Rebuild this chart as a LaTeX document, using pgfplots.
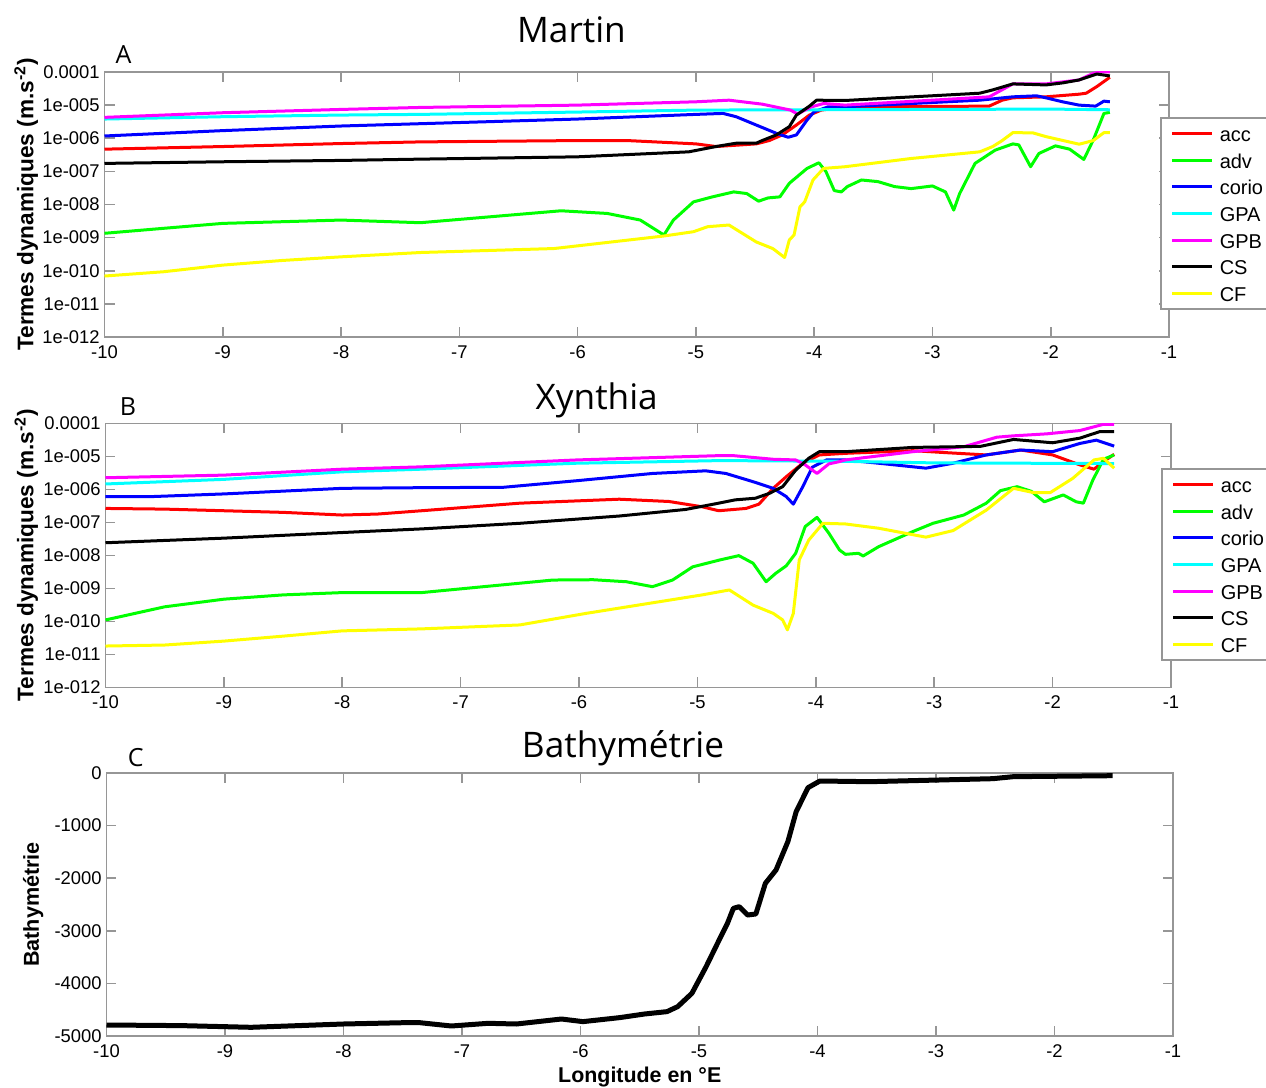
\documentclass[border=0pt]{standalone}
\usepackage{pgfplots}
\pgfplotsset{compat=1.18}
\usepackage{fontspec}
\setmainfont{Liberation Sans}
\newfontfamily\titlefont{Open Sans}
\definecolor{axisgray}{RGB}{150,150,150}
\definecolor{mred}{RGB}{255,0,0}
\definecolor{mgreen}{RGB}{0,255,0}
\definecolor{mblue}{RGB}{0,0,255}
\definecolor{mcyan}{RGB}{0,255,255}
\definecolor{mmagenta}{RGB}{255,0,255}
\definecolor{myellow}{RGB}{255,255,0}
\definecolor{mblack}{RGB}{0,0,0}

\pgfplotsset{
  panel/.style={
    scale only axis,
    xmin=-10, xmax=-1,
    xtick={-10,-9,-8,-7,-6,-5,-4,-3,-2,-1},
    xticklabels={-10,-9,-8,-7,-6,-5,-4,-3,-2,-1},
    axis line style={axisgray, line width=0.8pt},
    every tick/.style={axisgray, line width=0.8pt},
    major tick length=5pt,
    minor tick length=0pt,
    tick align=inside,
    tick label style={font=\fontsize{9.2}{10}\selectfont, text=black},
    xticklabel style={inner sep=0pt, anchor=north, yshift=-4pt},
    yticklabel style={inner sep=0pt, anchor=east, xshift=-2.25pt},
    every axis y label/.style={rotate=90, anchor=base, font=\bfseries\fontsize{10.8}{12}\selectfont},
    every axis x label/.style={anchor=base, font=\bfseries\fontsize{10.7}{12}\selectfont},
    legend cell align=left,
    legend image code/.code={\draw[##1] (0pt,0pt) -- (20pt,0pt);},
    every axis plot/.append style={line width=1.5pt, line join=round},
  },
}

\begin{document}
\begin{tikzpicture}
\path[use as bounding box] (0,0) rectangle (633pt,544pt);

% ---------------- Panel A : Martin ----------------
\begin{axis}[panel, at={(52.25pt,375.5pt)}, anchor=south west,
  width=532.25pt, height=132.5pt,
  ymode=log, ymin=1e-12, ymax=1e-4,
  ytick={1e-12,1e-11,1e-10,1e-9,1e-8,1e-7,1e-6,1e-5,1e-4},
  yticklabels={1e-012,1e-011,1e-010,1e-009,1e-008,1e-007,1e-006,1e-005,0.0001},
  ylabel={Termes dynamiques (m.s\textsuperscript{-2})},
  ylabel style={at={(axis description cs:-0.0669,0.5)}, font=\bfseries\fontsize{11.3}{12}\selectfont},
  legend style={at={(0.9915,0.8302)}, anchor=north west, draw=axisgray, line width=0.8pt, fill=white,
      font=\fontsize{10}{12}\selectfont, inner xsep=5pt, inner ysep=1.2pt, row sep=0pt,
      nodes={inner sep=0pt, text height=10.6pt, text depth=2.73pt},
      /tikz/every odd column/.append style={column sep=3pt}}]
\addplot[mred] coordinates {(-10,4.68e-7) (-9,5.62e-7) (-8,6.92e-7) (-7.33,7.76e-7) (-6,8.51e-7) (-5.58,8.51e-7) (-5.0,6.76e-7) (-4.83,5.62e-7) (-4.49,6.76e-7) (-4.38,8.51e-7) (-4.27,1.26e-6) (-4.15,2.51e-6) (-4.04,5.01e-6) (-3.94,7.08e-6) (-3.77,8.51e-6) (-3.74,8.91e-6) (-3.0,9.1e-6) (-2.52,9.33e-6) (-2.41,1.41e-5) (-2.32,1.66e-5) (-2.04,1.78e-5) (-1.76,2.14e-5) (-1.70,2.29e-5) (-1.61,3.63e-5) (-1.50,6.92e-5)};
\addlegendentry{acc}
\addplot[mgreen] coordinates {(-10,1.35e-9) (-9.5,1.91e-9) (-9,2.69e-9) (-8,3.39e-9) (-7.33,2.82e-9) (-6.14,6.46e-9) (-5.75,5.37e-9) (-5.47,3.39e-9) (-5.27,1.20e-9) (-5.19,3.39e-9) (-5.02,1.20e-8) (-4.86,1.70e-8) (-4.68,2.40e-8) (-4.57,2.14e-8) (-4.47,1.26e-8) (-4.39,1.58e-8) (-4.29,1.70e-8) (-4.21,4.37e-8) (-4.06,1.23e-7) (-3.96,1.82e-7) (-3.90,9.77e-8) (-3.83,2.63e-8) (-3.77,2.40e-8) (-3.72,3.47e-8) (-3.60,5.50e-8) (-3.46,4.90e-8) (-3.32,3.47e-8) (-3.18,3.02e-8) (-3.0,3.63e-8) (-2.89,2.40e-8) (-2.82,6.76e-9) (-2.77,2.14e-8) (-2.64,1.74e-7) (-2.47,4.37e-7) (-2.32,6.76e-7) (-2.27,6.31e-7) (-2.17,1.38e-7) (-2.10,3.47e-7) (-1.96,5.89e-7) (-1.84,4.68e-7) (-1.72,2.29e-7) (-1.64,8.91e-7) (-1.55,5.62e-6) (-1.50,6.03e-6)};
\addlegendentry{adv}
\addplot[mblue] coordinates {(-10,1.17e-6) (-9,1.70e-6) (-8,2.34e-6) (-7.33,2.75e-6) (-6,3.80e-6) (-5,5.25e-6) (-4.77,5.62e-6) (-4.66,4.47e-6) (-4.49,2.51e-6) (-4.32,1.41e-6) (-4.22,1.07e-6) (-4.15,1.26e-6) (-4.06,3.55e-6) (-4.0,6.31e-6) (-3.88,8.91e-6) (-3.74,8.91e-6) (-2.60,1.41e-5) (-2.32,1.78e-5) (-2.12,1.91e-5) (-2.04,1.66e-5) (-1.90,1.26e-5) (-1.76,1.00e-5) (-1.62,9.33e-6) (-1.55,1.32e-5) (-1.50,1.26e-5)};
\addlegendentry{corio}
\addplot[mcyan] coordinates {(-10,3.80e-6) (-9,4.47e-6) (-8,5.01e-6) (-7.33,5.25e-6) (-6,6.17e-6) (-5,7.08e-6) (-4,7.24e-6) (-3,7.41e-6) (-2,7.59e-6) (-1.5,7.24e-6)};
\addlegendentry{GPA}
\addplot[mmagenta] coordinates {(-10,4.27e-6) (-9,5.89e-6) (-8,7.41e-6) (-7.33,8.51e-6) (-6,1.00e-5) (-5,1.26e-5) (-4.72,1.41e-5) (-4.44,1.07e-5) (-4.2,7.08e-6) (-4.14,5.37e-6) (-4.03,8.71e-6) (-3.92,1.12e-5) (-3.74,1.00e-5) (-3.0,1.41e-5) (-2.52,1.78e-5) (-2.32,4.37e-5) (-2.04,4.37e-5) (-1.76,5.75e-5) (-1.64,9.12e-5) (-1.58,1.0e-4) (-1.5,1.0e-4)};
\addlegendentry{GPB}
\addplot[mblack] coordinates {(-10,1.74e-7) (-9,1.95e-7) (-8,2.14e-7) (-7.33,2.34e-7) (-6,2.75e-7) (-5.06,3.89e-7) (-4.83,5.62e-7) (-4.66,7.08e-7) (-4.49,7.08e-7) (-4.44,8.51e-7) (-4.32,1.26e-6) (-4.21,2.24e-6) (-4.15,5.01e-6) (-4.04,9.33e-6) (-3.98,1.41e-5) (-3.74,1.38e-5) (-2.60,2.29e-5) (-2.49,2.88e-5) (-2.32,4.37e-5) (-2.04,4.07e-5) (-1.90,4.68e-5) (-1.76,5.75e-5) (-1.61,8.71e-5) (-1.50,7.59e-5)};
\addlegendentry{CS}
\addplot[myellow] coordinates {(-10,6.92e-11) (-9.5,9.33e-11) (-9,1.48e-10) (-8.5,2.04e-10) (-8,2.63e-10) (-7.33,3.55e-10) (-6.2,4.68e-10) (-5.27,1.12e-9) (-5.02,1.51e-9) (-4.9,2.14e-9) (-4.72,2.40e-9) (-4.49,7.41e-10) (-4.35,4.68e-10) (-4.25,2.51e-10) (-4.21,8.51e-10) (-4.17,1.20e-9) (-4.12,8.51e-9) (-4.08,1.20e-8) (-4.01,5.50e-8) (-3.92,1.23e-7) (-3.74,1.38e-7) (-3.18,2.45e-7) (-2.60,3.89e-7) (-2.49,5.62e-7) (-2.41,8.51e-7) (-2.32,1.48e-6) (-2.15,1.45e-6) (-2.04,1.12e-6) (-1.76,6.61e-7) (-1.64,8.51e-7) (-1.55,1.48e-6) (-1.50,1.48e-6)};
\addlegendentry{CF}
\end{axis}

% ---------------- Panel B : Xynthia ----------------
\begin{axis}[panel, at={(52.75pt,200.35pt)}, anchor=south west,
  width=532.75pt, height=132pt,
  ymode=log, ymin=1e-12, ymax=1e-4,
  ytick={1e-12,1e-11,1e-10,1e-9,1e-8,1e-7,1e-6,1e-5,1e-4},
  yticklabels={1e-012,1e-011,1e-010,1e-009,1e-008,1e-007,1e-006,1e-005,0.0001},
  ylabel={Termes dynamiques (m.s\textsuperscript{-2})},
  ylabel style={at={(axis description cs:-0.0676,0.5)}, font=\bfseries\fontsize{11.3}{12}\selectfont},
  legend style={at={(0.9906,0.8307)}, anchor=north west, draw=axisgray, line width=0.8pt, fill=white,
      font=\fontsize{10}{12}\selectfont, inner xsep=5pt, inner ysep=1.2pt, row sep=0pt,
      nodes={inner sep=0pt, text height=10.6pt, text depth=2.73pt},
      /tikz/every odd column/.append style={column sep=3pt}}]
\addplot[mred] coordinates {(-10,2.63e-7) (-9.5,2.51e-7) (-9,2.24e-7) (-8.5,2.00e-7) (-8,1.66e-7) (-7.7,1.78e-7) (-7.33,2.24e-7) (-6.5,3.80e-7) (-5.66,5.01e-7) (-5.24,4.27e-7) (-4.96,2.95e-7) (-4.82,2.24e-7) (-4.59,2.63e-7) (-4.48,3.55e-7) (-4.36,1.07e-6) (-4.25,2.40e-6) (-4.11,6.17e-6) (-3.97,1.10e-5) (-3.75,1.23e-5) (-3.18,1.48e-5) (-2.90,1.29e-5) (-2.56,1.10e-5) (-2.27,1.55e-5) (-2.0,1.10e-5) (-1.77,5.50e-6) (-1.65,4.07e-6) (-1.57,6.92e-6) (-1.48,1.15e-5)};
\addlegendentry{acc}
\addplot[mgreen] coordinates {(-10,1.10e-10) (-9.5,2.75e-10) (-9,4.68e-10) (-8.5,6.31e-10) (-8,7.41e-10) (-7.33,7.41e-10) (-6.22,1.78e-9) (-5.88,1.82e-9) (-5.60,1.58e-9) (-5.38,1.12e-9) (-5.21,1.78e-9) (-5.04,4.47e-9) (-4.81,7.24e-9) (-4.65,9.77e-9) (-4.53,5.75e-9) (-4.42,1.58e-9) (-4.34,2.82e-9) (-4.25,4.79e-9) (-4.17,1.15e-8) (-4.09,7.41e-8) (-3.99,1.41e-7) (-3.89,4.68e-8) (-3.80,1.45e-8) (-3.75,1.07e-8) (-3.64,1.15e-8) (-3.60,9.55e-9) (-3.47,1.82e-8) (-3.18,5.25e-8) (-3.01,9.33e-8) (-2.75,1.66e-7) (-2.56,3.80e-7) (-2.44,9.12e-7) (-2.30,1.20e-6) (-2.18,8.71e-7) (-2.07,4.17e-7) (-1.91,6.76e-7) (-1.80,4.17e-7) (-1.74,3.80e-7) (-1.66,1.91e-6) (-1.57,8.13e-6) (-1.48,1.10e-5)};
\addlegendentry{adv}
\addplot[mblue] coordinates {(-10,6.03e-7) (-9.6,6.03e-7) (-9,7.24e-7) (-8,1.07e-6) (-7.33,1.12e-6) (-6.64,1.15e-6) (-6.02,1.82e-6) (-5.38,3.02e-6) (-4.93,3.63e-6) (-4.76,3.02e-6) (-4.53,1.70e-6) (-4.36,1.07e-6) (-4.25,6.03e-7) (-4.19,3.55e-7) (-4.11,1.20e-6) (-4.03,4.68e-6) (-3.91,7.76e-6) (-3.75,7.76e-6) (-3.47,6.17e-6) (-3.07,4.37e-6) (-2.84,6.17e-6) (-2.56,1.10e-5) (-2.27,1.55e-5) (-2.0,1.38e-5) (-1.77,2.45e-5) (-1.63,3.09e-5) (-1.48,2.04e-5)};
\addlegendentry{corio}
\addplot[mcyan] coordinates {(-10,1.45e-6) (-9,2.00e-6) (-8,3.39e-6) (-7.33,4.07e-6) (-6.02,6.17e-6) (-4.81,7.41e-6) (-3.8,7.08e-6) (-3.0,6.31e-6) (-1.48,6.03e-6)};
\addlegendentry{GPA}
\addplot[mmagenta] coordinates {(-10,2.24e-6) (-9,2.69e-6) (-8,4.07e-6) (-7.33,4.79e-6) (-6.02,7.76e-6) (-4.81,1.05e-5) (-4.70,1.05e-5) (-4.36,8.13e-6) (-4.17,7.76e-6) (-4.09,5.50e-6) (-3.99,3.02e-6) (-3.89,5.89e-6) (-3.80,6.92e-6) (-3.75,7.76e-6) (-3.18,1.38e-5) (-2.75,1.95e-5) (-2.47,3.80e-5) (-2.33,4.17e-5) (-2.05,4.79e-5) (-1.77,6.03e-5) (-1.57,9.33e-5) (-1.48,9.33e-5)};
\addlegendentry{GPB}
\addplot[mblack] coordinates {(-10,2.40e-8) (-9,3.31e-8) (-8,4.90e-8) (-7.33,6.31e-8) (-6.5,9.33e-8) (-5.66,1.55e-7) (-5.10,2.45e-7) (-4.82,3.80e-7) (-4.68,4.79e-7) (-4.51,5.37e-7) (-4.39,7.59e-7) (-4.28,1.20e-6) (-4.17,3.80e-6) (-4.06,8.71e-6) (-3.97,1.38e-5) (-3.75,1.38e-5) (-3.18,1.86e-5) (-2.61,2.00e-5) (-2.33,3.24e-5) (-2.0,2.57e-5) (-1.77,3.55e-5) (-1.60,5.62e-5) (-1.48,5.62e-5)};
\addlegendentry{CS}
\addplot[myellow] coordinates {(-10,1.78e-11) (-9.5,1.91e-11) (-9,2.51e-11) (-8.5,3.55e-11) (-8,5.13e-11) (-7.33,5.89e-11) (-6.50,7.76e-11) (-5.94,1.74e-10) (-5.38,3.63e-10) (-4.96,6.31e-10) (-4.73,8.91e-10) (-4.53,3.09e-10) (-4.36,1.74e-10) (-4.28,1.10e-10) (-4.24,5.50e-11) (-4.19,1.74e-10) (-4.14,7.24e-9) (-4.06,2.88e-8) (-3.94,9.33e-8) (-3.75,8.91e-8) (-3.47,6.61e-8) (-3.07,3.55e-8) (-2.84,5.62e-8) (-2.56,2.34e-7) (-2.33,1.07e-6) (-2.16,7.94e-7) (-2.02,7.94e-7) (-1.83,2.14e-6) (-1.65,7.76e-6) (-1.57,8.71e-6) (-1.48,4.37e-6)};
\addlegendentry{CF}
\end{axis}

% ---------------- Panel C : Bathymetrie ----------------
\begin{axis}[panel, at={(53.25pt,26pt)}, anchor=south west,
  width=533.25pt, height=131.5pt,
  ymin=-5000, ymax=0,
  ytick={-5000,-4000,-3000,-2000,-1000,0},
  yticklabels={-5000,-4000,-3000,-2000,-1000,0},
  ylabel={Bathymétrie},
  ylabel style={at={(axis description cs:-0.0635,0.5)}},
  xlabel={Longitude en °E},
  xlabel style={at={(axis description cs:0.5,-0.1787)}}]
\addplot[mblack, line width=2.5pt] coordinates {(-10,-4791) (-9.36,-4803) (-8.78,-4835) (-8,-4772) (-7.47,-4746) (-7.36,-4746) (-7.09,-4810) (-6.78,-4759) (-6.54,-4772) (-6.16,-4677) (-5.98,-4727) (-5.67,-4651) (-5.46,-4582) (-5.27,-4537) (-5.18,-4442) (-5.06,-4189) (-4.94,-3682) (-4.83,-3175) (-4.76,-2858) (-4.71,-2573) (-4.66,-2541) (-4.59,-2700) (-4.52,-2680) (-4.44,-2097) (-4.35,-1844) (-4.25,-1305) (-4.18,-735) (-4.08,-279) (-3.98,-152) (-3.56,-165) (-2.52,-108) (-2.35,-70) (-1.51,-51)};
\end{axis}

% ---------------- Titles and panel letters ----------------
\node[anchor=base, font=\titlefont\fontsize{17.6}{20}\selectfont] at (285.75pt,522.65pt) {Martin};
\node[anchor=base, font=\titlefont\fontsize{17.6}{20}\selectfont] at (298.35pt,339pt) {Xynthia};
\node[anchor=base, font=\titlefont\fontsize{17.6}{20}\selectfont] at (311.5pt,165pt) {Bathymétrie};
\node[anchor=base, font=\titlefont\fontsize{12.5}{14}\selectfont] at (61.75pt,512pt) {A};
\node[anchor=base, font=\titlefont\fontsize{12.5}{14}\selectfont] at (64pt,336pt) {B};
\node[anchor=base, font=\titlefont\fontsize{12.5}{14}\selectfont] at (67.85pt,160.65pt) {C};
\end{tikzpicture}
\end{document}
